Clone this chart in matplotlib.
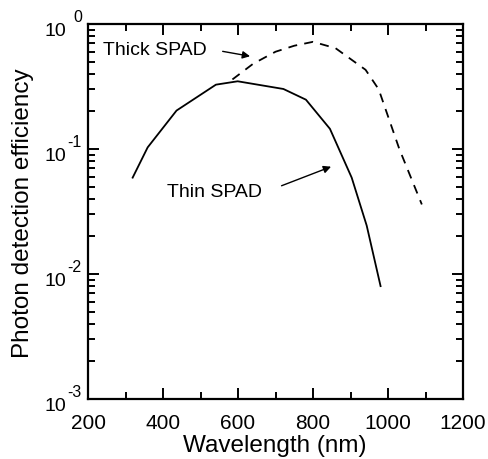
import numpy as np
import matplotlib
matplotlib.use("Agg")
import matplotlib.pyplot as plt
from matplotlib.ticker import LogLocator, MultipleLocator, FixedLocator, NullFormatter

plt.rcParams['font.family'] = ['Liberation Sans', 'DejaVu Sans']

# thin SPAD (solid)
thin_wl = [319, 359, 436, 541, 599, 721, 781, 845, 903, 943, 980]
thin_pde = [0.059, 0.103, 0.203, 0.327, 0.348, 0.302, 0.248, 0.145, 0.059, 0.0244, 0.008]

# thick SPAD (dashed)
thick_wl = [585, 640, 700, 750, 800, 860, 940, 975, 1030, 1090]
thick_pde = [0.36, 0.48, 0.60, 0.67, 0.72, 0.64, 0.43, 0.30, 0.10, 0.036]

y_exps = [0, -1, -2, -3]

fig = plt.figure(figsize=(4.89, 4.60), dpi=100)
ax = fig.add_axes([0.18, 0.1304, 0.767, 0.8153])

ax.plot(thin_wl, thin_pde, color='black', lw=1.3)
ax.plot(thick_wl, thick_pde, color='black', lw=1.3, linestyle=(0, (5, 4)))

ax.set_yscale('log')
ax.set_xlim(200, 1200)
ax.set_ylim(1e-3, 1)

ax.xaxis.set_major_locator(MultipleLocator(200))
ax.xaxis.set_minor_locator(MultipleLocator(100))
ax.yaxis.set_major_locator(FixedLocator([10.0 ** e for e in y_exps]))
ax.yaxis.set_minor_locator(LogLocator(base=10, subs=np.arange(2, 10)))
ax.yaxis.set_major_formatter(NullFormatter())
ax.yaxis.set_minor_formatter(NullFormatter())

ax.tick_params(which='both', direction='in', top=True, right=True, width=1.4, labelsize=15)
ax.tick_params(which='major', length=8)
ax.tick_params(which='minor', length=5)
ax.tick_params(axis='x', pad=10)
for s in ax.spines.values():
    s.set_linewidth(1.6)

# y tick labels drawn as "10" + raised exponent, like the original
for e in y_exps:
    ax.annotate('10', xy=(0, 10.0 ** e), xycoords=('axes fraction', 'data'),
                xytext=(-15.5, -5), textcoords='offset points',
                ha='right', va='center', fontsize=14)
    ax.annotate(str(e), xy=(0, 10.0 ** e), xycoords=('axes fraction', 'data'),
                xytext=(-4.5, 5.5), textcoords='offset points',
                ha='right', va='center', fontsize=11.5)

fig.text(0.562, 0.0174, 'Wavelength (nm)', fontsize=17.5, ha='center', va='baseline')
fig.text(0.047, 0.537, 'Photon detection efficiency', fontsize=17.5,
         rotation=90, ha='center', va='center')

# labels and arrows
ax.text(379, 0.63, 'Thick SPAD', fontsize=14, ha='center', va='center')
ax.text(536, 0.046, 'Thin SPAD', fontsize=14, ha='center', va='center')
arrow = dict(arrowstyle='-|>', color='black', lw=1, shrinkA=0, shrinkB=0, mutation_scale=11)
ax.annotate('', xy=(632, 0.552), xytext=(559, 0.604), arrowprops=arrow)
ax.annotate('', xy=(848, 0.0722), xytext=(716, 0.0508), arrowprops=arrow)

fig.savefig('out.png', dpi=100)
